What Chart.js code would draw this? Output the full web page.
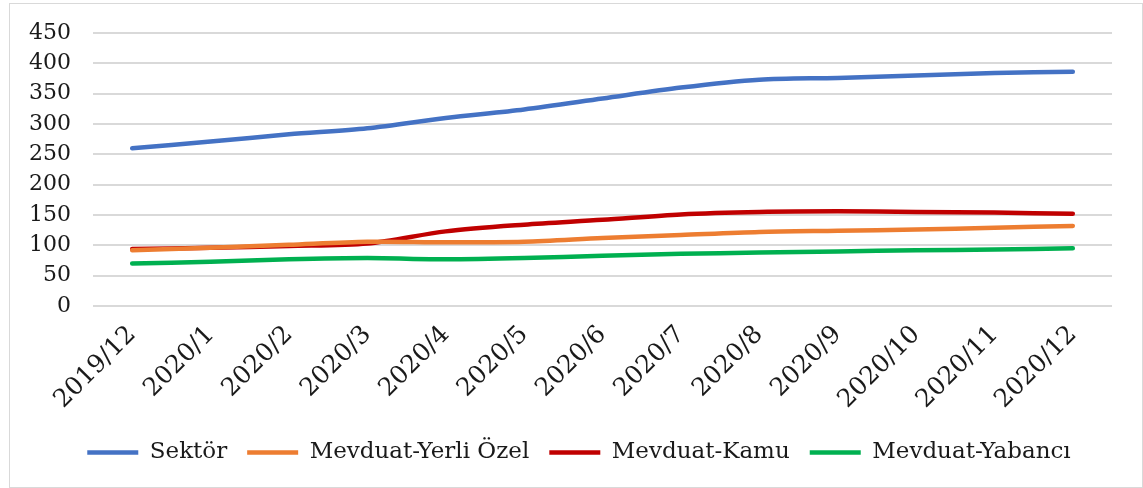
<!DOCTYPE html>
<html>
<head>
<meta charset="utf-8">
<script src="https://cdn.jsdelivr.net/npm/chart.js@4"></script>
<style>
  body { margin: 0; background: #fff; }
  #box { position: absolute; left: 9px; top: 3px; width: 1132px; height: 483px; border: 1px solid #d9d9d9; }
</style>
</head>
<body>
<div id="box"><canvas id="chart"></canvas></div>
<script>
const months = ['2019/12', '2020/1', '2020/2', '2020/3', '2020/4', '2020/5', '2020/6', '2020/7', '2020/8', '2020/9', '2020/10', '2020/11', '2020/12'];
const sektor = [260, 271, 283, 293, 310, 324, 342, 360, 373, 376, 380, 384, 386];
const yerliOzel = [92, 96, 101, 106, 105, 106, 112, 117, 122, 124, 126, 129, 132];
const kamu = [94, 96, 99, 103, 123, 134, 142, 151, 155, 156, 155, 154, 152];
const yabanci = [70, 73, 77, 79, 77, 79, 83, 86, 88, 90, 92, 93, 95];
const yTicks = [0, 50, 100, 150, 200, 250, 300, 350, 400, 450];

Chart.defaults.font.family = '"DejaVu Serif", serif';
Chart.defaults.font.size = 22;
Chart.defaults.color = '#1a1a1a';

function line(label, data, color) {
    return {
        label: label,
        data: data,
        borderColor: color,
        backgroundColor: color,
        borderWidth: 4.5,
        borderCapStyle: 'round',
        pointRadius: 0,
        tension: 0.3,
        fill: false
    };
}

new Chart(document.getElementById('chart'), {
    type: 'line',
    data: {
        labels: months,
        datasets: [
            line('Sektör', sektor, '#4472C4'),
            line('Mevduat-Yerli Özel', yerliOzel, '#ED7D31'),
            line('Mevduat-Kamu', kamu, '#C00000'),
            line('Mevduat-Yabancı', yabanci, '#00B050')
        ]
    },
    options: {
        responsive: true,
        maintainAspectRatio: false,
        animation: false,
        layout: { padding: { left: 6, right: 0, top: 29, bottom: 13 } },
        scales: {
            x: {
                offset: true,
                grid: { display: false },
                border: { display: false },
                ticks: { maxRotation: 45, minRotation: 45, padding: 6, autoSkip: false, font: { size: 25 } },
                afterFit: s => { s.height = 115; }
            },
            y: {
                min: 0,
                max: 450,
                afterBuildTicks: s => { s.ticks = yTicks.map(v => ({ value: v })); },
                grid: { color: '#d9d9d9', lineWidth: 2, drawTicks: false },
                border: { display: false },
                ticks: { padding: 22, autoSkip: false },
                afterFit: s => { s.width = 77; s.paddingTop = 0; s.paddingBottom = 0; }
            },
            // empty right axis, only keeps the gap right of the plot
            y2: {
                position: 'right',
                grid: { display: false },
                border: { display: false },
                ticks: { display: false },
                afterFit: s => { s.width = 30; s.paddingTop = 0; s.paddingBottom = 0; }
            }
        },
        plugins: {
            legend: {
                position: 'bottom',
                labels: {
                    usePointStyle: true,
                    pointStyle: 'line',
                    pointStyleWidth: 51,
                    padding: 20,
                    font: { size: 23 }
                }
            },
            tooltip: { enabled: false }
        }
    }
});
</script>
</body>
</html>
